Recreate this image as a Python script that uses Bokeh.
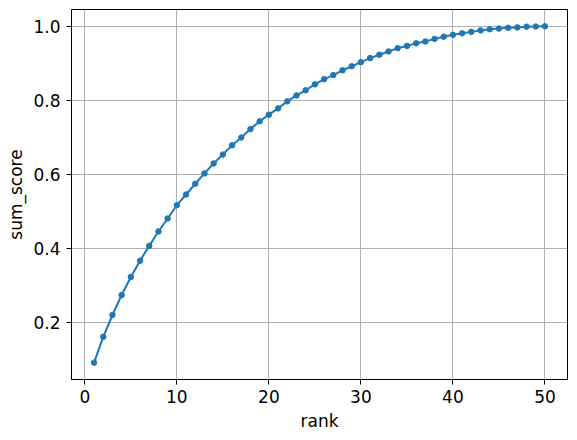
from bokeh.plotting import figure
from bokeh.models import Range1d, FixedTicker, PrintfTickFormatter, ColumnDataSource
from bokeh.embed import file_html
from bokeh.resources import INLINE

rank = [1, 2, 3, 4, 5, 6, 7, 8, 9, 10,
        11, 12, 13, 14, 15, 16, 17, 18, 19, 20,
        21, 22, 23, 24, 25, 26, 27, 28, 29, 30,
        31, 32, 33, 34, 35, 36, 37, 38, 39, 40,
        41, 42, 43, 44, 45, 46, 47, 48, 49, 50]
sum_score = [0.090, 0.160, 0.219, 0.273, 0.322, 0.366, 0.406, 0.445, 0.480, 0.516,
             0.545, 0.574, 0.602, 0.629, 0.653, 0.678, 0.699, 0.722, 0.743, 0.761,
             0.778, 0.797, 0.813, 0.827, 0.843, 0.857, 0.868, 0.881, 0.892, 0.903,
             0.914, 0.923, 0.932, 0.941, 0.947, 0.954, 0.959, 0.966, 0.972, 0.977,
             0.981, 0.985, 0.989, 0.992, 0.994, 0.996, 0.997, 0.999, 0.9995, 1.000]
x_ticks = [0, 10, 20, 30, 40, 50]
y_ticks = [0.2, 0.4, 0.6, 0.8, 1.0]

src = ColumnDataSource(data=dict(rank=rank, sum_score=sum_score))

p = figure(frame_width=496, frame_height=370,
           x_range=Range1d(-1.45, 52.45), y_range=Range1d(0.0445, 1.0455),
           output_backend="svg", toolbar_location=None,
           min_border_left=71, min_border_right=1, min_border_top=9, min_border_bottom=2)

p.background_fill_color = "white"
p.border_fill_color = "white"
p.outline_line_color = "black"
p.outline_line_width = 1

p.line("rank", "sum_score", source=src, line_color="#1f77b4", line_width=2)
p.scatter("rank", "sum_score", source=src, size=5.5, fill_color="#1f77b4", line_color="#1f77b4")

p.xaxis.ticker = FixedTicker(ticks=x_ticks)
p.yaxis.ticker = FixedTicker(ticks=y_ticks)
p.yaxis.formatter = PrintfTickFormatter(format="%.1f")
p.xaxis.axis_label = "rank"
p.yaxis.axis_label = "sum_score"

for ax in (p.xaxis, p.yaxis):
    ax.axis_line_color = "black"
    ax.axis_line_width = 1
    ax.major_tick_line_color = "black"
    ax.major_tick_out = 5
    ax.major_tick_in = 0
    ax.minor_tick_line_color = None
    ax.major_label_text_font = "DejaVu Sans"
    ax.major_label_text_font_size = "17px"
    ax.major_label_text_color = "black"
    ax.axis_label_text_font = "DejaVu Sans"
    ax.axis_label_text_font_size = "17px"
    ax.axis_label_text_font_style = "normal"
    ax.axis_label_text_color = "black"

p.xaxis.major_label_standoff = 5
p.yaxis.major_label_standoff = 6
p.xaxis.axis_label_standoff = 5
p.yaxis.axis_label_standoff = 4

p.grid.grid_line_color = "#b0b0b0"
p.grid.grid_line_width = 1

open("out.html", "w").write(file_html(p, INLINE))
